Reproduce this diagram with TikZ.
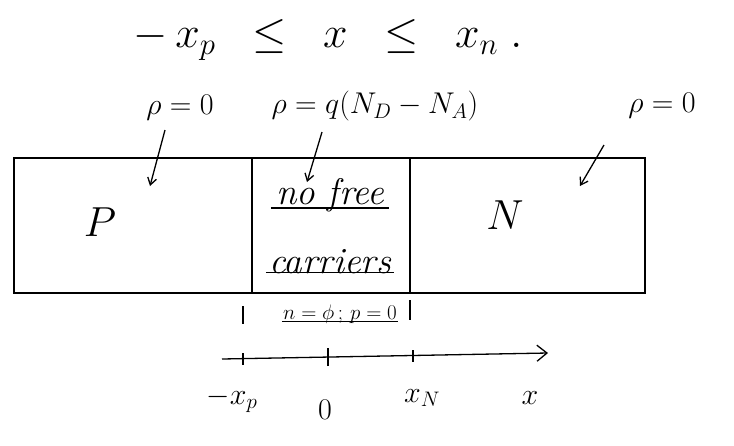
\documentclass[tikz,border=0pt]{standalone}
\usepackage{fix-cm}
\usetikzlibrary{arrows.meta}
\begin{document}
\begin{tikzpicture}[x=1pt,y=-1pt,
  ink/.style={line width=1.3pt,black},
  region/.style={ink,draw,rectangle,inner sep=0pt,minimum height=135pt},
  lbl/.style={inner sep=1pt,font=\fontsize{30}{34}\selectfont},
  ptr/.style={ink,-{Straight Barb[length=7pt,width=9pt]}},
  tick/.style={ink}]
\useasboundingbox (0,0) rectangle (734,445);
\fill[white] (0,0) rectangle (734,445);
% regions
\node[region,minimum width=238pt] (P) at (133,225.5) {};
\node[region,minimum width=158pt] (D) at (331,225.5) {};
\node[region,minimum width=235pt] (N) at (527.5,225.5) {};
\node[font=\fontsize{42}{46}\selectfont] (Pt) at (100,222) {$P$};
\node[font=\fontsize{42}{46}\selectfont] (Nt) at (505,215) {$N$};
\node[inner sep=1pt,font=\fontsize{37}{40}\selectfont\itshape] (nf) at (330,195) {no free};
\node[inner sep=1pt,font=\fontsize{37}{40}\selectfont\itshape] (ca) at (330,262) {carriers};
\draw[ink] ([xshift=-4pt,yshift=5pt]nf.south west) -- ([xshift=4pt,yshift=5pt]nf.south east);
\draw[ink] ([xshift=-2pt,yshift=3pt]ca.south west) -- ([xshift=2pt,yshift=3pt]ca.south east);
% top inequality
\node[font=\fontsize{44}{50}\selectfont] (ineq) at (328,40) {$-\,x_p\;\;\leq\;\; x\;\;\leq\;\; x_n\;.$};
% rho labels
\node[lbl] (r1) at (180,108) {$\rho=0$};
\node[lbl] (r2) at (375,106) {$\rho=q(N_D-N_A)$};
\node[lbl] (r3) at (662,106) {$\rho=0$};
\coordinate (a1s) at (165,130); \coordinate (a1e) at (150,186);
\coordinate (a2s) at (322,132); \coordinate (a2e) at (307,182);
\coordinate (a3s) at (604,145); \coordinate (a3e) at (580,186);
\draw[ptr] (a1s) -- (a1e);
\draw[ptr] (a2s) -- (a2e);
\draw[ptr] (a3s) -- (a3e);
% below box
\coordinate (t1a) at (243,306); \coordinate (t1b) at (243,324);
\coordinate (t2a) at (410,300); \coordinate (t2b) at (410,320);
\draw[tick] (t1a) -- (t1b);
\draw[tick] (t2a) -- (t2b);
\node[inner sep=1pt,font=\fontsize{21}{24}\selectfont] (np) at (340,314) {$n=\phi\,;\,p=0$};
\draw[ink] ([yshift=3pt]np.south west) -- ([yshift=3pt]np.south east);
% axis
\coordinate (ax0) at (222,359); \coordinate (ax1) at (548,353);
\draw[ink,-{Straight Barb[length=10pt,width=16pt]}] (ax0) -- (ax1);
\coordinate (k1) at (243,358.5); \coordinate (k2) at (328,357); \coordinate (k3) at (413,355.5);
\draw[tick] ([yshift=-6pt]k1) -- ([yshift=6pt]k1);
\draw[tick] ([yshift=-9pt]k2) -- ([yshift=9pt]k2);
\draw[tick] ([yshift=-6pt]k3) -- ([yshift=6pt]k3);
\node[lbl] (lx1) at (232,400) {$-x_p$};
\node[lbl] (lx2) at (325,410) {$0$};
\node[lbl] (lx3) at (422,398) {$x_N$};
\node[lbl] (lx4) at (530,398) {$x$};
\end{tikzpicture}
\end{document}
